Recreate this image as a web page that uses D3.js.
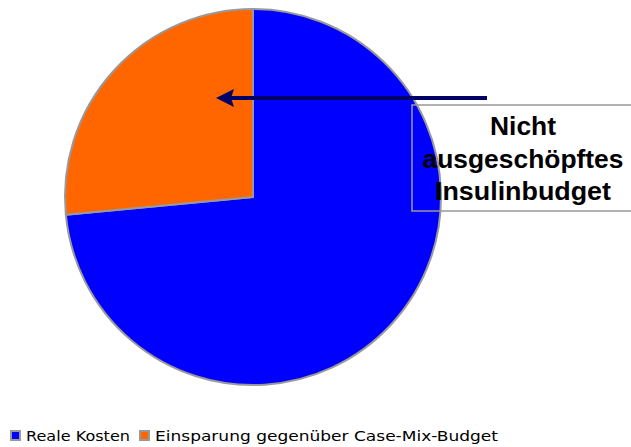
<!DOCTYPE html>
<html><head><meta charset="utf-8">
<script src="https://cdn.jsdelivr.net/npm/d3@7"></script>
<style>body{margin:0;background:#fff}svg{display:block}</style>
</head><body>
<svg id="c" width="631" height="447"></svg>
<script>
const categories = ["Reale Kosten", "Einsparung gegenüber Case-Mix-Budget"];
const values = [73.5, 26.5];
const colors = ["#0000ff", "#ff6600"];
const annotationLines = ["Nicht", "ausgeschöpftes", "Insulinbudget"];

const svg = d3.select("#c");
const cx = 253, cy = 197, r = 188;

const pie = d3.pie().sort(null).value(d => d.v);
const arc = d3.arc().innerRadius(0).outerRadius(r);
const data = categories.map((c, i) => ({c, v: values[i], col: colors[i]}));

const g = svg.append("g").attr("transform", `translate(${cx},${cy})`);
g.selectAll("path").data(pie(data)).join("path")
  .attr("d", arc)
  .attr("fill", d => d.data.col)
  .attr("stroke", "#999999")
  .attr("stroke-width", 2)
  .attr("stroke-linejoin", "round");

// annotation box
svg.append("rect").attr("x", 412).attr("y", 105).attr("width", 240).attr("height", 106)
  .attr("fill", "none").attr("stroke", "#999999").attr("stroke-width", 1.5);
const annWidths = [66, 201, 176];
svg.append("g").selectAll("text").data(annotationLines).join("text")
  .attr("x", 523).attr("y", (d, i) => 135 + i * 32.5)
  .attr("text-anchor", "middle")
  .attr("font-family", "Liberation Sans, Arial, sans-serif")
  .attr("font-weight", "bold").attr("font-size", 25)
  .attr("textLength", (d, i) => annWidths[i])
  .attr("lengthAdjust", "spacingAndGlyphs")
  .attr("fill", "#000")
  .text(d => d);

// arrow
const arrowColor = "#000066";
svg.append("line").attr("x1", 487).attr("y1", 98).attr("x2", 230).attr("y2", 98)
  .attr("stroke", arrowColor).attr("stroke-width", 4);
svg.append("path").attr("d", "M216,98 L234,89 L231,98 L234,107 Z").attr("fill", arrowColor);

// legend
const legX = [11, 140];
const legTextW = [104, 343];
const lg = svg.append("g").attr("font-family", "DejaVu Sans, Verdana, sans-serif").attr("font-size", 14.5);
categories.forEach((c, i) => {
  lg.append("rect").attr("x", legX[i]).attr("y", 431).attr("width", 9).attr("height", 9)
    .attr("fill", colors[i]).attr("stroke", "#999999").attr("stroke-width", 2);
  lg.append("text").attr("x", legX[i] + 15).attr("y", 441).attr("fill", "#000")
    .attr("textLength", legTextW[i]).attr("lengthAdjust", "spacingAndGlyphs").text(c);
});
</script>
</body></html>
